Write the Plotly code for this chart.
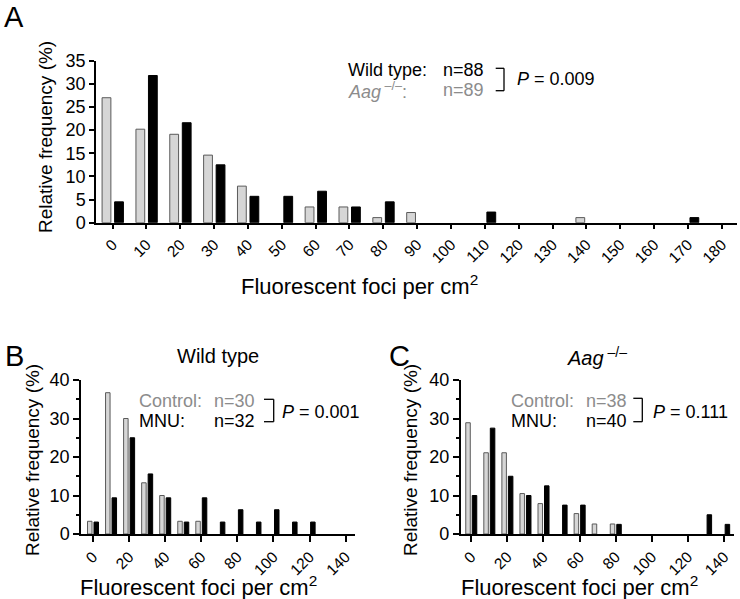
import plotly.graph_objects as go

# ---------------- data ----------------
bins_a = list(range(0, 190, 10))
tick_labels_a = [str(v) for v in bins_a]
wt_a = [4.5, 31.8, 21.6, 12.5, 5.7, 5.7, 6.8, 3.4, 4.5, 0, 0, 2.3, 0, 0, 0, 0, 0, 1.1, 0]
aag_a = [27.0, 20.2, 19.1, 14.6, 7.9, 0, 3.4, 3.4, 1.1, 2.2, 0, 0, 0, 0, 1.1, 0, 0, 0, 0]

bins_bc = list(range(0, 150, 10))
ticks_bc = list(range(0, 160, 20))
ctrl_b = [3.3, 36.7, 30.0, 13.3, 10.0, 3.3, 3.3, 0, 0, 0, 0, 0, 0, 0, 0]
mnu_b = [3.1, 9.4, 25.0, 15.6, 9.4, 3.1, 9.4, 3.1, 6.3, 3.1, 6.3, 3.1, 3.1, 0, 0]
ctrl_c = [28.9, 21.1, 21.1, 10.5, 7.9, 0, 5.3, 2.6, 2.6, 0, 0, 0, 0, 0, 0]
mnu_c = [10.0, 27.5, 15.0, 10.0, 12.5, 7.5, 7.5, 0, 2.5, 0, 0, 0, 0, 5.0, 2.5]

# ---------------- style ----------------
W, H = 740, 599
FONT = "Liberation Sans, Arial, sans-serif"
GRAY_FILL = "#d6d6d6"
GRAY_LINE = "#5a5a5a"
GRAY_TEXT = "#8c8c8c"


def X(px):
    return px / W


def Y(py):
    return 1 - py / H


def nz(vals):
    return [v if v else None for v in vals]


fig = go.Figure()


def add_pair(x, gray, black, xa, ya, width, goff, boff):
    fig.add_trace(go.Bar(x=x, y=nz(gray), width=width, offset=goff,
                         marker=dict(color=GRAY_FILL, line=dict(color=GRAY_LINE, width=1)),
                         xaxis=xa, yaxis=ya, showlegend=False, hoverinfo="skip"))
    fig.add_trace(go.Bar(x=x, y=nz(black), width=width, offset=boff,
                         marker=dict(color="black", line=dict(color="black", width=1)),
                         xaxis=xa, yaxis=ya, showlegend=False, hoverinfo="skip"))


add_pair(bins_a, aag_a, wt_a, "x", "y", 2.6, -3.1, 0.6)
add_pair(bins_bc, ctrl_b, mnu_b, "x2", "y2", 2.5, -3.0, 0.6)
add_pair(bins_bc, ctrl_c, mnu_c, "x3", "y3", 2.5, -3.0, 0.6)

axis_common = dict(showline=True, linecolor="black", linewidth=1.5, ticks="outside",
                   tickcolor="black", tickwidth=1.5, showgrid=False, zeroline=False,
                   automargin=False)
yfont = dict(family=FONT, size=18, color="black")
xfont = dict(family=FONT, size=15.5, color="black")
minor_y = dict(dtick=5, ticks="outside", ticklen=3, tickcolor="black", tickwidth=1.5)

fig.update_layout(
    width=W, height=H, margin=dict(l=0, r=0, t=0, b=0),
    paper_bgcolor="white", plot_bgcolor="white", barmode="overlay",
    font=dict(family=FONT, color="black"),
    xaxis=dict(domain=[X(96), X(737)], range=[-4.9, 184.5], tickvals=bins_a,
               ticktext=tick_labels_a, tickangle=-45, ticklen=5, anchor="y",
               tickfont=xfont, **axis_common),
    yaxis=dict(domain=[Y(222.7), Y(60.7)], range=[0, 35], dtick=5, ticklen=5,
               anchor="x", tickfont=yfont, **axis_common),
    xaxis2=dict(domain=[X(81), X(355)], range=[-6.6, 145.2], tickvals=ticks_bc,
                tickangle=-45, ticklen=6, anchor="y2", tickfont=xfont, **axis_common),
    yaxis2=dict(domain=[Y(534), Y(380)], range=[0, 40], dtick=10, ticklen=6, anchor="x2",
                minor=minor_y, tickfont=yfont, **axis_common),
    xaxis3=dict(domain=[X(460.7), X(734)], range=[-5.8, 145.5], tickvals=ticks_bc,
                tickangle=-45, ticklen=6, anchor="y3", tickfont=xfont, **axis_common),
    yaxis3=dict(domain=[Y(534), Y(380)], range=[0, 40], dtick=10, ticklen=6, anchor="x3",
                minor=minor_y, tickfont=yfont, **axis_common),
)

ann = []


def text(px, py, s, size=18, color="black", xanchor="left", angle=0):
    ann.append(dict(x=X(px), y=Y(py), xref="paper", yref="paper", text=s, showarrow=False,
                    xanchor=xanchor, yanchor="middle", textangle=angle,
                    font=dict(family=FONT, size=size, color=color)))


# panel letters
text(14, 17, "A", size=29, xanchor="center")
text(14, 356, "B", size=29, xanchor="center")
text(399, 356, "C", size=29, xanchor="center")

# panel titles
text(218, 356, "Wild type", size=20, xanchor="center")
text(597, 356, "<i>Aag</i><sup> –/–</sup>", size=20, xanchor="center")

# axis titles
xt = "Fluorescent foci per cm<sup>2</sup>"
yt = "Relative frequency (%)"
text(359, 285, xt, size=22, xanchor="center")
text(199, 586, xt, size=22, xanchor="center")
text(579, 586, xt, size=22, xanchor="center")
text(46, 137, yt, size=19, xanchor="center", angle=-90)
text(32, 460, yt, size=19, xanchor="center", angle=-90)
text(410, 460, yt, size=19, xanchor="center", angle=-90)

# legends
text(346, 70, "Wild type:")
text(441, 70, "n=88")
text(346, 90, "<i>Aag</i><sup> –/–</sup>:", color=GRAY_TEXT)
text(441, 90, "n=89", color=GRAY_TEXT)
text(515, 79.3, "<i>P</i> = 0.009")

text(137, 401, "Control:", color=GRAY_TEXT)
text(212, 401, "n=30", color=GRAY_TEXT)
text(137, 421, "MNU:")
text(212, 421, "n=32")
text(280, 411.7, "<i>P</i> = 0.001")

text(509, 401, "Control:", color=GRAY_TEXT)
text(584, 401, "n=38", color=GRAY_TEXT)
text(509, 421, "MNU:")
text(584, 421, "n=40")
text(651, 411.7, "<i>P</i> = 0.111")

fig.update_layout(annotations=ann)

# brackets
shapes = []


def bracket(x0, x1, y0, y1):
    for (a, b, c, d) in [(x0, y0, x1, y0), (x1, y0, x1, y1), (x0, y1, x1, y1)]:
        shapes.append(dict(type="line", xref="paper", yref="paper", x0=X(a), y0=Y(b),
                           x1=X(c), y1=Y(d), line=dict(color="black", width=1.3)))


bracket(495.7, 504, 68.3, 90.7)
bracket(264, 273.7, 399.3, 421.7)
bracket(633.3, 642.3, 398.3, 421.7)
fig.update_layout(shapes=shapes)

fig.write_html("out.html", config={"displayModeBar": False},
               post_script="document.body.style.margin='0px';document.body.style.overflow='hidden';")
